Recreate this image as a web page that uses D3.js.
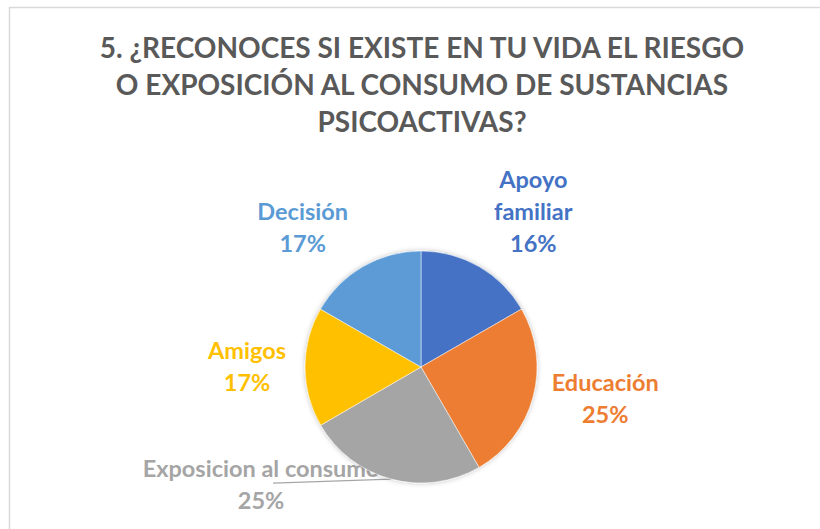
<!DOCTYPE html>
<html>
<head>
<meta charset="utf-8">
<script src="https://cdn.jsdelivr.net/npm/d3@7"></script>
<style>
  body { margin: 0; background: #fff; }
  text { font-family: Lato, "Open Sans", sans-serif; font-weight: bold; }
</style>
</head>
<body>
<div id="chart"></div>
<script>
const titleLines = [
    "5. ¿RECONOCES SI EXISTE EN TU VIDA EL RIESGO",
    "O EXPOSICIÓN AL CONSUMO DE SUSTANCIAS",
    "PSICOACTIVAS?"
];
const categories = ["Apoyo familiar", "Educación", "Exposicion al consumo", "Amigos", "Decisión"];
const values = [16.7, 25, 25, 16.7, 16.7];
const percentLabels = ["16%", "25%", "25%", "17%", "17%"];
const colors = ["#4472C4", "#ED7D31", "#A5A5A5", "#FFC000", "#5B9BD5"];
// how each category name is broken into lines in the labels
const nameLines = [["Apoyo", "familiar"], ["Educación"], ["Exposicion al consumo"], ["Amigos"], ["Decisión"]];

const width = 820, height = 529;
const cx = 421, cy = 367, radius = 116;
const lineH = 32;
const padX = 11;

const svg = d3.select("#chart")
    .append("svg")
    .attr("width", width)
    .attr("height", height);

// soft shadow under the pie
const defs = svg.append("defs");
const f = defs.append("filter").attr("id", "shadow")
    .attr("x", "-20%").attr("y", "-20%").attr("width", "140%").attr("height", "140%");
f.append("feDropShadow").attr("dx", 0).attr("dy", 0)
    .attr("stdDeviation", 2.5).attr("flood-color", "#000").attr("flood-opacity", 0.25);

// chart border
svg.append("rect")
    .attr("x", 9.5).attr("y", 7.5)
    .attr("width", 900).attr("height", 600)
    .attr("fill", "none")
    .attr("stroke", "#D9D9D9")
    .attr("stroke-width", 1.5);

// title
svg.append("text")
    .attr("text-anchor", "middle")
    .attr("fill", "#595959")
    .style("font-size", "28px")
    .selectAll("tspan")
    .data(titleLines)
    .enter()
    .append("tspan")
    .attr("x", 422)
    .attr("y", (d, i) => 58 + i * 37)
    .text(d => d);

const data = categories.map((c, i) => ({
    name: c, value: values[i], pct: percentLabels[i], color: colors[i], lines: nameLines[i]
}));

const pie = d3.pie().sort(null).value(d => d.value);
const arcs = pie(data);
const arc = d3.arc().innerRadius(0).outerRadius(radius);
const edgeArc = d3.arc().innerRadius(radius).outerRadius(radius);
const outArc = d3.arc().innerRadius(radius + 8).outerRadius(radius + 8);

const g = svg.append("g").attr("transform", `translate(${cx},${cy})`);

// labels (drawn before the pie; the moved one sits partly under it)
const labelG = g.append("g");
arcs.forEach(a => {
    const lines = a.data.lines.concat([a.data.pct]);
    const mid = (a.startAngle + a.endAngle) / 2;
    const s = Math.sin(mid), c = Math.cos(mid);
    const t = labelG.append("text")
        .attr("text-anchor", "middle")
        .attr("fill", a.data.color)
        .style("font-size", "23.5px");
    const spans = lines.map(l => t.append("tspan").text(l));
    const boxW = d3.max(spans, sp => sp.node().getComputedTextLength());
    const boxH = lines.length * lineH;
    const [px, py] = outArc.centroid(a);
    let lx, ly;
    if (a.data.name === "Exposicion al consumo") {
        // label dragged away by hand, with leader line
        const [ex, ey] = edgeArc.centroid(a);
        lx = ex - 130; ly = ey + 6;
        labelG.insert("path", "text")
            .attr("d", `M${ex},${ey}L${lx + 12},${ly - 2}`)
            .attr("stroke", "#A6A6A6")
            .attr("stroke-width", 1.2)
            .attr("fill", "none");
    } else {
        lx = px + (Math.abs(s) > 0.3 ? Math.sign(s) * (boxW / 2 + padX) : 0);
        ly = py + (Math.abs(c) > 0.3 ? -Math.sign(c) * boxH / 2 : 0);
    }
    spans.forEach((sp, i) => {
        sp.attr("x", lx)
          .attr("y", ly - boxH / 2 + (i + 0.5) * lineH + 8);
    });
});

// pie slices
g.append("g")
    .attr("filter", "url(#shadow)")
    .selectAll("path")
    .data(arcs)
    .enter()
    .append("path")
    .attr("d", arc)
    .attr("fill", d => d.data.color)
    .attr("stroke", "#fff")
    .attr("stroke-width", 0.5);
</script>
</body>
</html>
